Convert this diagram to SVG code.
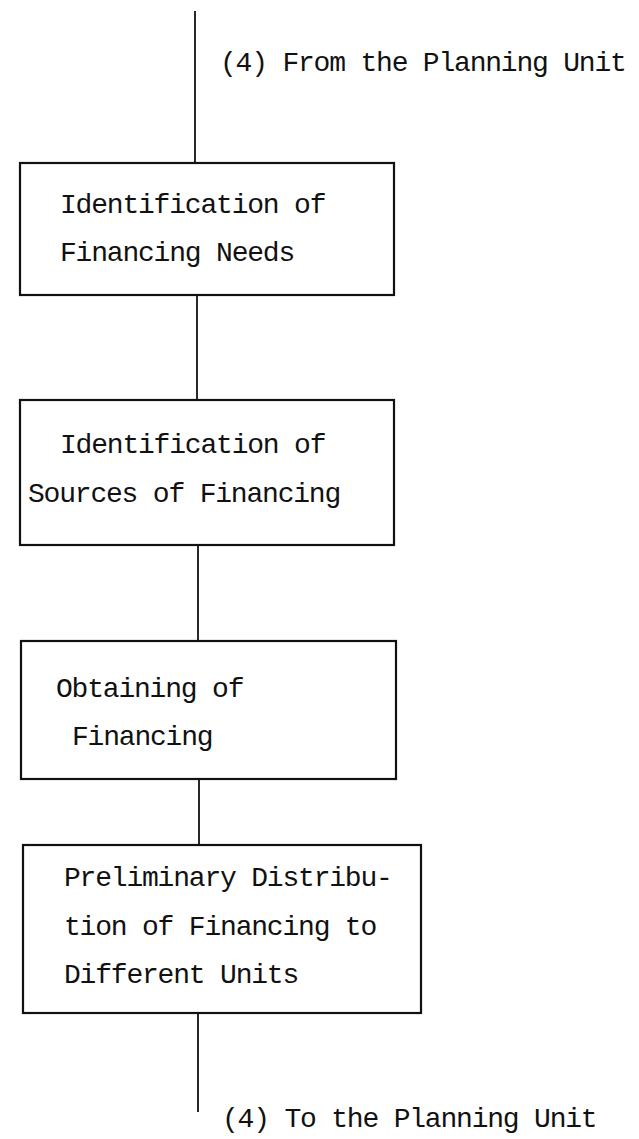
<svg xmlns="http://www.w3.org/2000/svg" width="639" height="1139" viewBox="0 0 639 1139">
<style>
.box{fill:none;stroke:#111;stroke-width:2.2}
.ln{stroke:#111;stroke-width:1.8;fill:none}
text{font-family:"Liberation Mono","DejaVu Sans Mono",monospace;font-size:28px;letter-spacing:-1.2px;fill:#111}
</style>
<rect width="639" height="1139" fill="#fff"/>
<g id="connectors">
<line class="ln" x1="195" y1="11" x2="195" y2="163"/>
<line class="ln" x1="197" y1="295" x2="197" y2="400"/>
<line class="ln" x1="198" y1="545" x2="198" y2="641"/>
<line class="ln" x1="199" y1="779" x2="199" y2="845"/>
<line class="ln" x1="198" y1="1013" x2="198" y2="1112"/>
</g>
<g id="label-from"><text x="220" y="71">(4) From the Planning Unit</text></g>
<g id="node1">
<rect class="box" x="20" y="163" width="374" height="132"/>
<text x="60" y="213">Identification of</text>
<text x="60" y="261">Financing Needs</text>
</g>
<g id="node2">
<rect class="box" x="20" y="400" width="374" height="145"/>
<text x="60" y="453">Identification of</text>
<text x="28" y="502">Sources of Financing</text>
</g>
<g id="node3">
<rect class="box" x="21" y="641" width="375" height="138"/>
<text x="56" y="697">Obtaining of</text>
<text x="72" y="745">Financing</text>
</g>
<g id="node4">
<rect class="box" x="23" y="845" width="398" height="168"/>
<text x="64" y="886">Preliminary Distribu-</text>
<text x="64" y="935">tion of Financing to</text>
<text x="64" y="983">Different Units</text>
</g>
<g id="label-to"><text x="222" y="1127">(4) To the Planning Unit</text></g>
</svg>
